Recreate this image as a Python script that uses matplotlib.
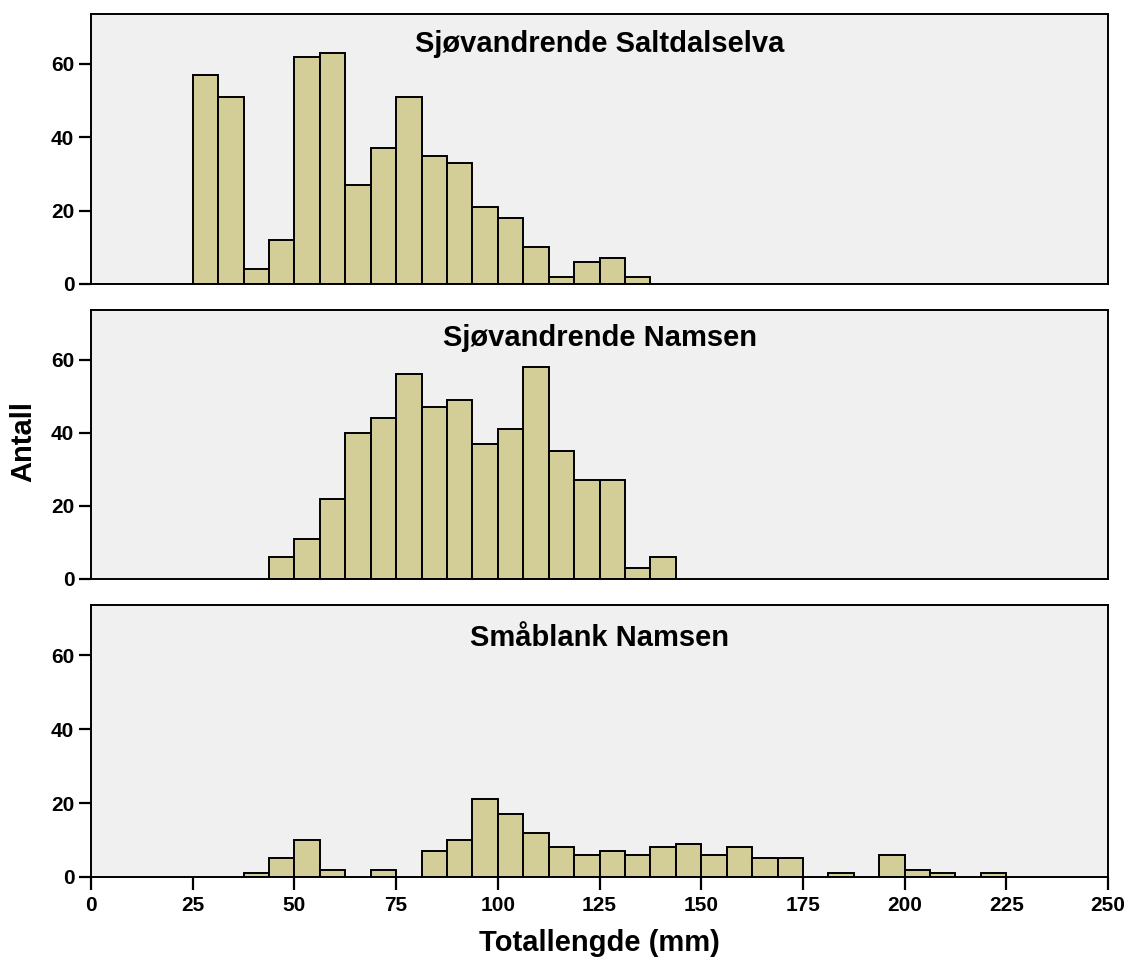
import numpy as np
import matplotlib
matplotlib.use("Agg")
import matplotlib.pyplot as plt

plt.rcParams['font.family'] = ['Liberation Sans', 'DejaVu Sans']
plt.rcParams['font.weight'] = 'bold'

# Bin width 6.25 mm; each series lists counts from its first bin edge
binbredde = 6.25

saltdal_start = 25.0
saltdal = [57, 51, 4, 12, 62, 63, 27, 37, 51, 35, 33, 21, 18, 10, 2, 6, 7, 2]

namsen_start = 43.75
namsen = [6, 11, 22, 40, 44, 56, 47, 49, 37, 41, 58, 35, 27, 27, 3, 6]

smablank_start = 37.5
smablank = [1, 5, 10, 2, 0, 2, 0, 7, 10, 21, 17, 12, 8, 6, 7, 6, 8, 9, 6, 8,
            5, 5, 0, 1, 0, 6, 2, 1, 0, 1]

titler = ["Sjøvandrende Saltdalselva", "Sjøvandrende Namsen", "Småblank Namsen"]
serier = [(saltdal_start, saltdal), (namsen_start, namsen), (smablank_start, smablank)]

fig = plt.figure(figsize=(11.28, 9.6), dpi=100)

venstre, hoyre = 0.0807, 0.9823
paneler = [(0.7042, 0.9854), (0.3969, 0.6771), (0.0865, 0.3698)]
# distance in pixels from panel top to title baseline
tittel_avstand = [38, 36, 41]

for i, ((bunn, topp), tittel, (start, antall)) in enumerate(zip(paneler, titler, serier)):
    ax = fig.add_axes([venstre, bunn, hoyre - venstre, topp - bunn])
    ax.set_facecolor("#f0f0f0")
    antall = np.array(antall)
    kanter = start + binbredde * np.arange(len(antall))
    vis = antall > 0
    ax.bar(kanter[vis], antall[vis], width=binbredde, align="edge",
           color="#d3ce97", edgecolor="black", linewidth=1.4, zorder=2)
    ax.set_xlim(0, 250)
    ax.set_ylim(0, 73.6)
    ax.set_yticks([0, 20, 40, 60])
    for s in ax.spines.values():
        s.set_linewidth(1.4)
        s.set_zorder(3)
    ax.tick_params(axis="y", direction="out", length=9, width=1.6, labelsize=15, pad=3)
    if i < 2:
        ax.set_xticks([])
    else:
        ax.set_xticks(np.arange(0, 251, 25))
        ax.tick_params(axis="x", direction="out", length=9, width=1.6, labelsize=15, pad=5)
    for lab in ax.get_xticklabels() + ax.get_yticklabels():
        lab.set_fontweight("bold")
    hoyde_px = (topp - bunn) * 960
    ax.text(0.5, 1 - tittel_avstand[i] / hoyde_px, tittel, transform=ax.transAxes,
            ha="center", va="baseline", fontsize=21, fontweight="bold")

fig.text(0.531, 0.018, "Totallengde (mm)", ha="center", va="center", fontsize=21, fontweight="bold")
fig.text(0.0204, 0.540, "Antall", ha="center", va="center", rotation=90, fontsize=21, fontweight="bold")

fig.savefig("out.png", dpi=100)
